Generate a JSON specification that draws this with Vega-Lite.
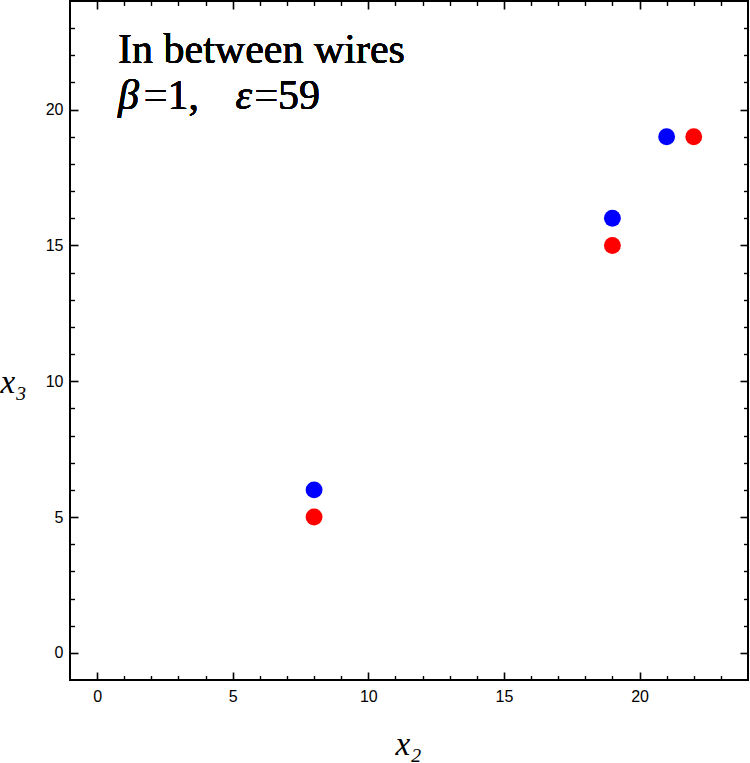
{
  "$schema": "https://vega.github.io/schema/vega-lite/v6.json",
  "autosize": {"type": "none"},
  "padding": {"left": 70, "top": 1, "right": 2, "bottom": 83},
  "width": 678,
  "height": 679,
  "background": "white",
  "config": {
    "view": {"stroke": "black", "strokeWidth": 2},
    "axis": {"domain": false, "grid": false, "tickColor": "black"}
  },
  "data": {
    "values": [
      {"x2": 8, "x3": 6, "series": "upper"},
      {"x2": 8, "x3": 5, "series": "lower"},
      {"x2": 19, "x3": 16, "series": "upper"},
      {"x2": 19, "x3": 15, "series": "lower"},
      {"x2": 21, "x3": 19, "series": "upper"},
      {"x2": 22, "x3": 19, "series": "lower"}
    ]
  },
  "resolve": {"axis": {"x": "independent", "y": "independent"}},
  "layer": [
    {
      "mark": {"type": "circle", "size": 285, "opacity": 1},
      "encoding": {
        "x": {
          "field": "x2", "type": "quantitative",
          "scale": {"domain": [-1, 24], "nice": false, "zero": false},
          "axis": {
            "orient": "bottom", "values": [0, 5, 10, 15, 20],
            "tickSize": -8, "tickWidth": 1.6, "labelPadding": 16,
            "labelFont": "Liberation Sans", "labelFontSize": 16, "labelColor": "black",
            "title": "x₂", "titleX": 338, "titleY": 74,
            "titleFont": "Liberation Serif", "titleFontStyle": "italic", "titleFontWeight": "normal",
            "titleFontSize": 33, "titleColor": "black",
            "titleAlign": "center", "titleBaseline": "alphabetic"
          }
        },
        "y": {
          "field": "x3", "type": "quantitative",
          "scale": {"domain": [-1, 24], "nice": false, "zero": false},
          "axis": {
            "orient": "left", "values": [0, 5, 10, 15, 20],
            "tickSize": -8, "tickWidth": 1.6, "labelPadding": 15,
            "labelFont": "Liberation Sans", "labelFontSize": 16, "labelColor": "black",
            "title": "x₃", "titleAngle": 0, "titleX": -70, "titleY": 391,
            "titleFont": "Liberation Serif", "titleFontStyle": "italic", "titleFontWeight": "normal",
            "titleFontSize": 33, "titleColor": "black",
            "titleAlign": "left", "titleBaseline": "alphabetic"
          }
        },
        "color": {
          "field": "series", "type": "nominal",
          "scale": {"domain": ["upper", "lower"], "range": ["#0000ff", "#ff0000"]},
          "legend": null
        }
      }
    },
    {
      "mark": {"type": "circle", "opacity": 0},
      "encoding": {
        "x": {"field": "x2", "type": "quantitative",
          "axis": {"orient": "bottom", "values": [1,2,3,4,6,7,8,9,11,12,13,14,16,17,18,19,21,22,23],
            "tickSize": -4.5, "tickWidth": 1.4, "labels": false, "title": null}},
        "y": {"field": "x3", "type": "quantitative",
          "axis": {"orient": "left", "values": [1,2,3,4,6,7,8,9,11,12,13,14,16,17,18,19,21,22,23],
            "tickSize": -4.5, "tickWidth": 1.4, "labels": false, "title": null}}
      }
    },
    {
      "mark": {"type": "circle", "opacity": 0},
      "encoding": {
        "x": {"field": "x2", "type": "quantitative",
          "axis": {"orient": "top", "values": [0, 5, 10, 15, 20],
            "tickSize": -8, "tickWidth": 1.6, "labels": false, "title": null}},
        "y": {"field": "x3", "type": "quantitative",
          "axis": {"orient": "right", "values": [0, 5, 10, 15, 20],
            "tickSize": -8, "tickWidth": 1.6, "labels": false, "title": null}}
      }
    },
    {
      "mark": {"type": "circle", "opacity": 0},
      "encoding": {
        "x": {"field": "x2", "type": "quantitative",
          "axis": {"orient": "top", "values": [1,2,3,4,6,7,8,9,11,12,13,14,16,17,18,19,21,22,23],
            "tickSize": -4.5, "tickWidth": 1.4, "labels": false, "title": null}},
        "y": {"field": "x3", "type": "quantitative",
          "axis": {"orient": "right", "values": [1,2,3,4,6,7,8,9,11,12,13,14,16,17,18,19,21,22,23],
            "tickSize": -4.5, "tickWidth": 1.4, "labels": false, "title": null}}
      }
    },
    {
      "mark": {"type": "text", "text": "In between wires", "font": "Liberation Serif",
        "fontSize": 42, "align": "left", "baseline": "alphabetic", "color": "black"},
      "encoding": {
        "x": {"datum": 0.77, "type": "quantitative", "axis": null},
        "y": {"datum": 21.72, "type": "quantitative", "axis": null}
      }
    },
    {
      "mark": {"type": "text", "text": "β", "font": "Liberation Serif", "fontStyle": "italic",
        "fontSize": 42, "align": "left", "baseline": "alphabetic", "color": "black"},
      "encoding": {
        "x": {"datum": 0.77, "type": "quantitative", "axis": null},
        "y": {"datum": 20.02, "type": "quantitative", "axis": null}
      }
    },
    {
      "mark": {"type": "text", "text": "=1,", "font": "Liberation Serif",
        "fontSize": 42, "align": "left", "baseline": "alphabetic", "color": "black"},
      "encoding": {
        "x": {"datum": 1.72, "type": "quantitative", "axis": null},
        "y": {"datum": 20.02, "type": "quantitative", "axis": null}
      }
    },
    {
      "mark": {"type": "text", "text": "ε", "font": "Liberation Serif", "fontStyle": "italic",
        "fontSize": 42, "align": "left", "baseline": "alphabetic", "color": "black"},
      "encoding": {
        "x": {"datum": 5.1, "type": "quantitative", "axis": null},
        "y": {"datum": 20.02, "type": "quantitative", "axis": null}
      }
    },
    {
      "mark": {"type": "text", "text": "=59", "font": "Liberation Serif",
        "fontSize": 42, "align": "left", "baseline": "alphabetic", "color": "black"},
      "encoding": {
        "x": {"datum": 5.8, "type": "quantitative", "axis": null},
        "y": {"datum": 20.02, "type": "quantitative", "axis": null}
      }
    }
  ]
}
